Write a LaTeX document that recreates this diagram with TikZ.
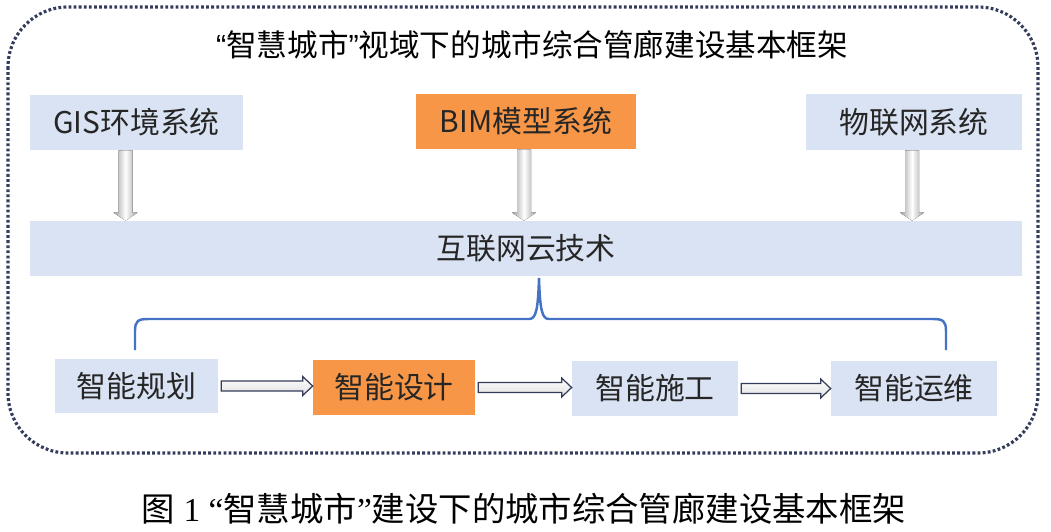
\documentclass[tikz,border=0pt]{standalone}
\usepackage{fontspec}
\setmainfont{Noto Sans CJK SC}
\newfontfamily\latinsans{Liberation Sans}
\newfontfamily\latinserif{Liberation Serif}
\usetikzlibrary{calc}
\definecolor{boxblue}{RGB}{218,227,243}
\definecolor{boxorange}{RGB}{247,150,70}
\definecolor{framenavy}{RGB}{52,60,92}
\definecolor{bracecol}{RGB}{68,114,196}
\tikzset{
	plainbox/.style={fill=boxblue, inner sep=0pt, text=black!85, font=\fontsize{17}{20}\selectfont},
	hotbox/.style={plainbox, fill=boxorange},
	downarrow/.style={left color=gray!75, right color=gray!75, middle color=white},
	rightarrow/.style={draw=framenavy, line width=0.7pt, top color=white, bottom color=gray!25},
}

\begin{document}
\begin{tikzpicture}[x=0.02cm, y=-0.02cm]
	\useasboundingbox (0,0) rectangle (1051,531);

	\draw[framenavy, line width=1.8pt, dash pattern=on 1.6pt off 1.3pt, rounded corners=1.2cm]
		(8,7) rectangle (1038,453);
	\node[font=\fontsize{17.4}{20}\selectfont] (title) at (532,45)
		{{\latinsans “}智慧城市{\latinsans ”}视域下的城市综合管廊建设基本框架};

	% top row
	\node[plainbox, minimum width=4.26cm, minimum height=1.1cm] (gis) at (136.5,122.5) {GIS环境系统};
	\node[hotbox, minimum width=4.4cm, minimum height=1.1cm] (bim) at (526,121.5) {BIM模型系统};
	\node[plainbox, minimum width=4.32cm, minimum height=1.12cm] (iot) at (914,122) {物联网系统};
	\node[plainbox, minimum width=19.84cm, minimum height=1.1cm] (net) at (526,248.5) {互联网云技术};

	\foreach \src/\dx in {gis/-11, bim/-2, iot/-2} {
		\coordinate (s) at ($(\src.south)+(\dx,0)$);
		\coordinate (t) at (s |- net.north);
		\fill[downarrow] ($(s)+(-7,0)$) -- ($(t)+(-7,-8)$) -- ($(t)+(-12,-8)$) -- (t)
			-- ($(t)+(12,-8)$) -- ($(t)+(7,-8)$) -- ($(s)+(7,0)$) -- cycle;
	}

	% bottom row
	\node[plainbox, minimum width=3.26cm, minimum height=1.08cm] (plan) at (136.5,386) {智能规划};
	\node[hotbox, minimum width=3.24cm, minimum height=1.1cm] (design) at (394,387.5) {智能设计};
	\node[plainbox, minimum width=3.32cm, minimum height=1.1cm] (build) at (655,388.5) {智能施工};
	\node[plainbox, minimum width=3.32cm, minimum height=1.1cm] (ops) at (914,388.5) {智能运维};

	\foreach \a/\b in {plan/design, design/build, build/ops} {
		\coordinate (p) at (\a.east);
		\coordinate (q) at (\b.west |- \a.east);
		\draw[rightarrow] ($(p)+(3,-5)$) -- ($(q)+(-10,-5)$) -- ($(q)+(-10,-9.5)$) -- (q)
			-- ($(q)+(-10,9.5)$) -- ($(q)+(-10,5)$) -- ($(p)+(3,5)$) -- cycle;
	}

	% klamra
	\coordinate (tip) at (539,278);
	\draw[bracecol, line width=1.4pt] (135,350) -- (135,331) .. controls (135,321) and (138,319) .. (148,319)
		-- (529,319) .. controls (536,319) and (538,310) .. (tip)
		.. controls (540,310) and (542,319) .. (549,319) -- (933,319)
		.. controls (943,319) and (946,321) .. (946,331) -- (946,350);

	\node[font=\fontsize{19}{22}\selectfont] (caption) at (524,509)
		{图{\latinserif\ 1 “}智慧城市{\latinserif ”}建设下的城市综合管廊建设基本框架};
\end{tikzpicture}
\end{document}
